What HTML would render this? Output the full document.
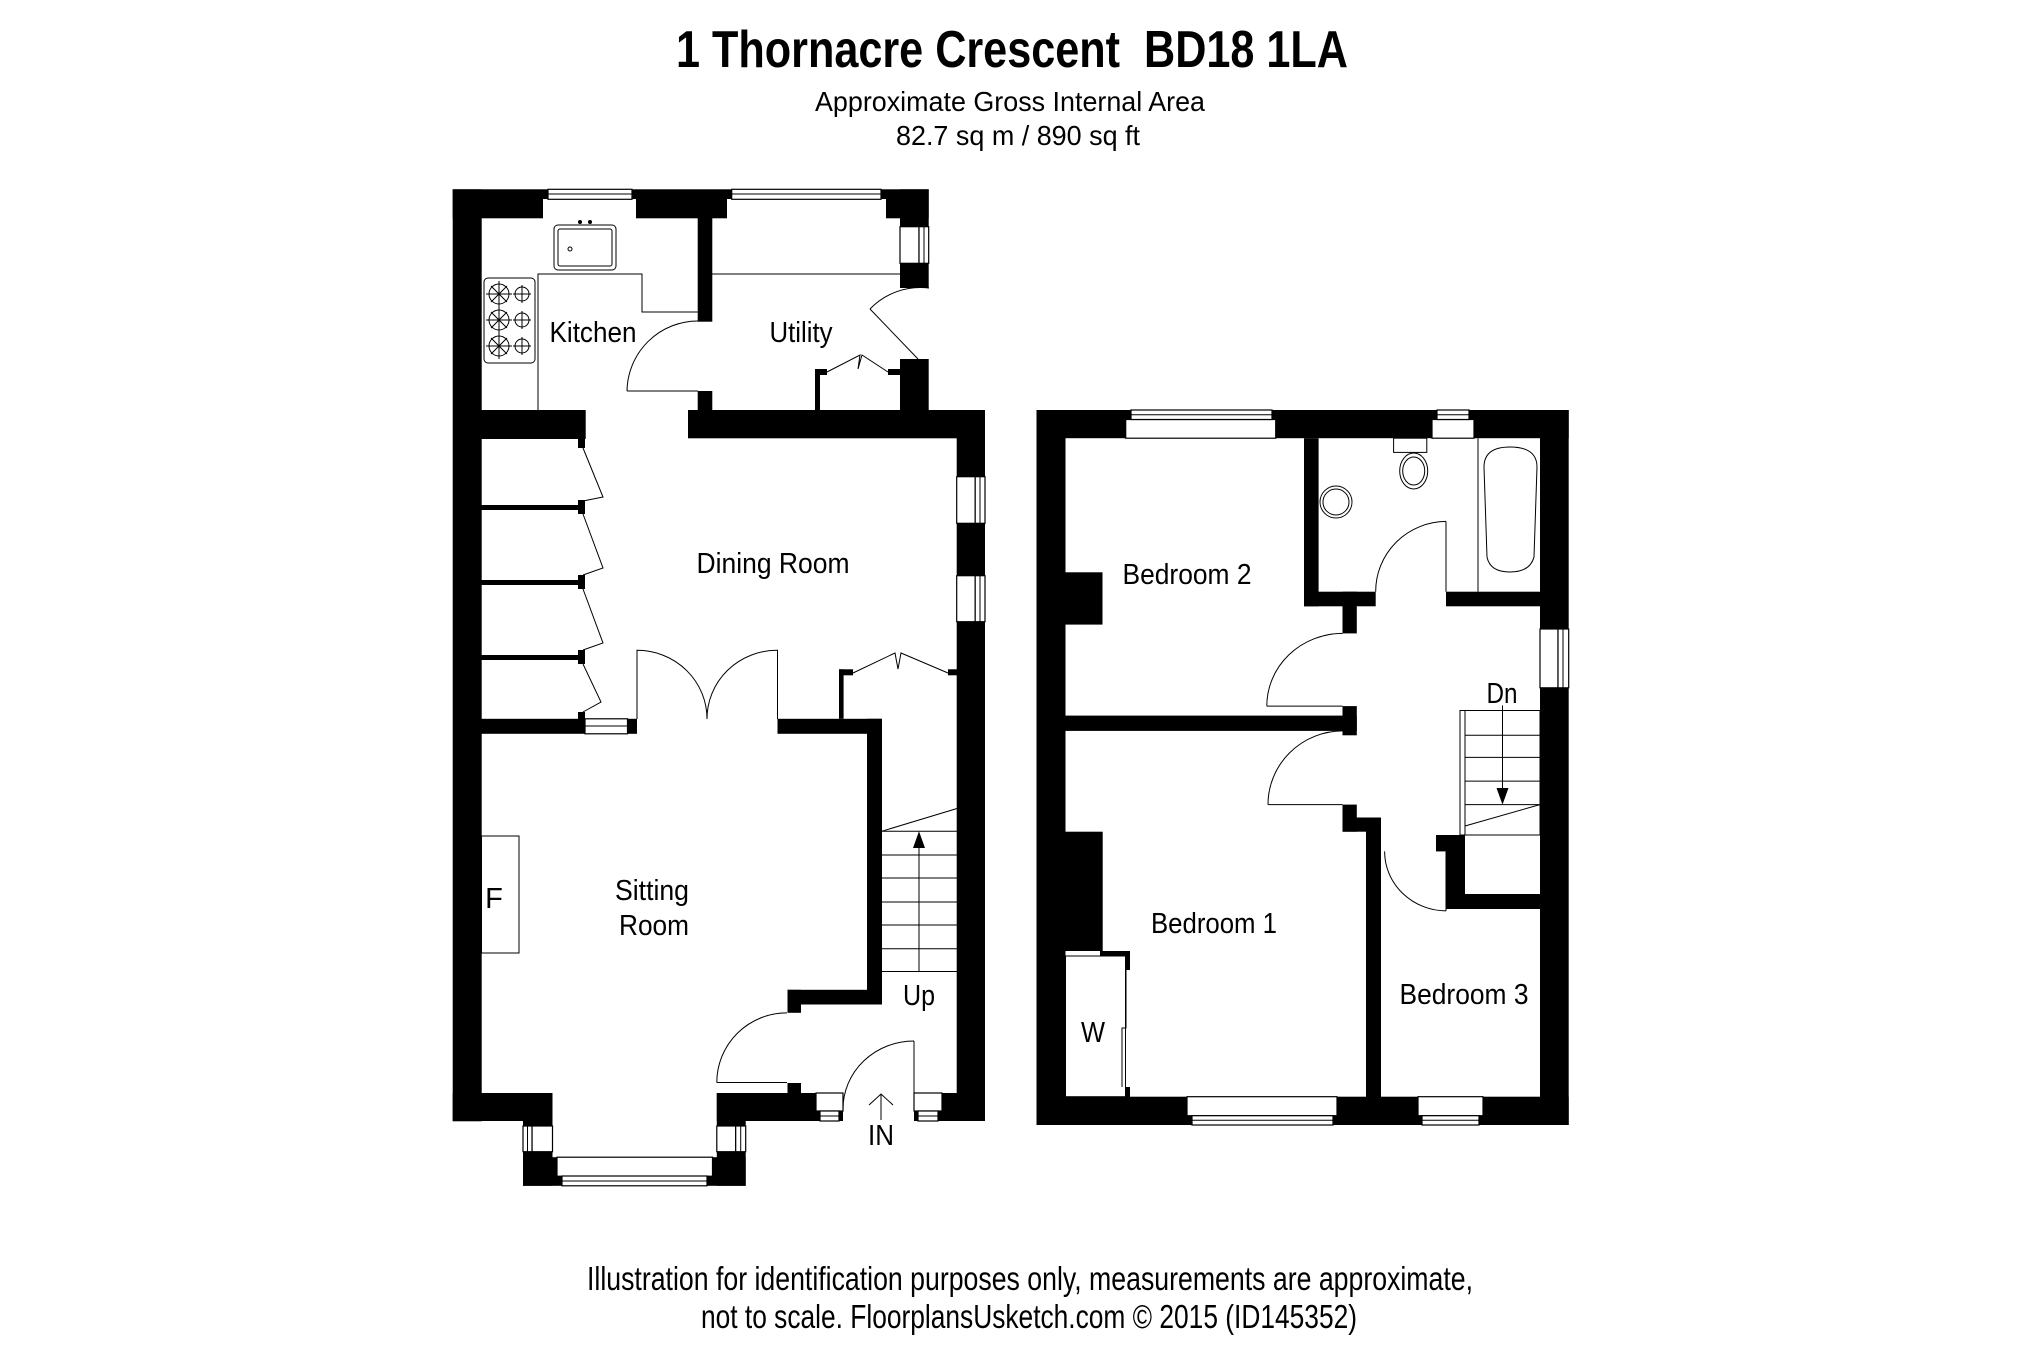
<!DOCTYPE html>
<html><head><meta charset="utf-8"><style>
html,body{margin:0;padding:0;background:#fff;}
svg{display:block}
text{font-family:"Liberation Sans Narrow","Liberation Sans",Arial,sans-serif;fill:#000}
</style></head><body>
<svg width="2025" height="1347" viewBox="0 0 2025 1347" xmlns="http://www.w3.org/2000/svg">
<rect width="2025" height="1347" fill="#fff"/>
<text x="1012" y="67" font-size="52" font-weight="bold" text-anchor="middle" textLength="672" lengthAdjust="spacingAndGlyphs">1 Thornacre Crescent&#160; BD18 1LA</text>
<text x="1010" y="111" font-size="28" text-anchor="middle" textLength="390" lengthAdjust="spacingAndGlyphs">Approximate Gross Internal Area</text>
<text x="1018" y="145" font-size="28" text-anchor="middle" textLength="244" lengthAdjust="spacingAndGlyphs">82.7 sq m / 890 sq ft</text>
<text x="1030" y="1290" font-size="33" text-anchor="middle" textLength="886" lengthAdjust="spacingAndGlyphs">Illustration for identification purposes only, measurements are approximate,</text>
<text x="1029" y="1328" font-size="33" text-anchor="middle" textLength="656" lengthAdjust="spacingAndGlyphs">not to scale. FloorplansUsketch.com © 2015 (ID145352)</text>

<g fill="#000">
<rect x="452.7" y="189.3" width="29" height="932"/>
<rect x="452.7" y="189.3" width="476" height="29"/>
<rect x="900" y="189.3" width="28.7" height="98.7"/>
<rect x="900" y="359" width="28.7" height="52"/>
<rect x="688" y="410" width="297" height="28.3"/>
<rect x="481.5" y="410" width="104.2" height="29"/>
<rect x="956.7" y="410" width="28.3" height="711"/>
<rect x="697.7" y="218" width="14.6" height="103.7"/>
<rect x="697.7" y="391" width="14.6" height="20"/>
<rect x="815" y="369" width="5" height="41"/>
<rect x="815" y="369" width="12" height="6"/>
<rect x="888" y="369" width="12" height="6"/>
<rect x="481.5" y="505" width="102" height="5"/>
<rect x="481.5" y="580" width="102" height="5"/>
<rect x="481.5" y="655" width="102" height="5"/>
<rect x="578" y="439" width="7" height="9"/>
<rect x="578" y="500" width="7" height="14"/>
<rect x="578" y="575" width="7" height="14"/>
<rect x="578" y="650" width="7" height="14"/>
<rect x="578" y="712" width="7" height="7"/>
<rect x="481.5" y="718.8" width="155.5" height="15"/>
<rect x="777.5" y="718.8" width="104.5" height="15"/>
<rect x="867" y="718.8" width="15" height="285.7"/>
<rect x="787.5" y="989.8" width="94.5" height="14.7"/>
<rect x="787.5" y="989.8" width="13.5" height="23"/>
<rect x="787.5" y="1083" width="13.5" height="10"/>
<rect x="839" y="669.3" width="4.6" height="49.5"/>
<rect x="839" y="669.3" width="14" height="6"/>
<rect x="948" y="669.3" width="9" height="6"/>
<rect x="452.7" y="1093" width="99.8" height="28"/>
<rect x="523" y="1093" width="29.5" height="92.8"/>
<rect x="523" y="1157.2" width="222.7" height="28.6"/>
<rect x="716.8" y="1093" width="28.9" height="92.8"/>
<rect x="716.8" y="1093" width="126.2" height="28"/>
<rect x="914" y="1093" width="71" height="28"/>

<rect x="1036.5" y="410" width="532.2" height="28.2"/>
<rect x="1036.5" y="410" width="29" height="715"/>
<rect x="1540" y="410" width="28.7" height="715"/>
<rect x="1036.5" y="1096.7" width="532.2" height="28.3"/>
<rect x="1304" y="438.2" width="14.6" height="168.1"/>
<rect x="1304" y="591.7" width="71.7" height="14.6"/>
<rect x="1446" y="591.7" width="94" height="14.6"/>
<rect x="1342.5" y="591.7" width="14.3" height="41.7"/>
<rect x="1065.5" y="715.6" width="291.3" height="15.3"/>
<rect x="1342.5" y="706.1" width="14.3" height="29.2"/>
<rect x="1342.5" y="804.6" width="14.3" height="27.1"/>
<rect x="1342.5" y="817.5" width="38.5" height="14.2"/>
<rect x="1366" y="817.5" width="15" height="280"/>
<rect x="1446" y="835" width="19" height="74"/>
<rect x="1436" y="835" width="29" height="16.4"/>
<rect x="1446" y="894" width="94" height="15"/>
<rect x="1065" y="572.3" width="37.5" height="52.3"/>
<rect x="1065" y="831.7" width="37.7" height="119.3"/>
<rect x="1100" y="951" width="30" height="5"/>
<rect x="1126" y="951" width="4" height="19"/>
<rect x="1126" y="1087" width="4" height="10"/>
</g>

<g fill="#fff" stroke="#000" stroke-width="1.2">
<rect x="543" y="199" width="93" height="20" stroke="none"/>
<rect x="548" y="189.3" width="84" height="10"/>
<rect x="727" y="199" width="159" height="20" stroke="none"/>
<rect x="731.7" y="189.3" width="149.3" height="10"/>
<rect x="900" y="226.7" width="19" height="36.6"/>
<rect x="919" y="226.7" width="9.7" height="36.6"/>
<rect x="956.7" y="476.7" width="18.5" height="46.6"/>
<rect x="975.2" y="476.7" width="9.8" height="46.6"/>
<rect x="956.7" y="575.7" width="18.5" height="46"/>
<rect x="975.2" y="575.7" width="9.8" height="46"/>
<rect x="585" y="718.8" width="42.5" height="15"/>
<rect x="532" y="1126" width="20.5" height="25.7"/>
<rect x="523" y="1126" width="9" height="25.7"/>
<rect x="716.8" y="1126" width="18.9" height="25.7"/>
<rect x="735.7" y="1126" width="10" height="25.7"/>
<rect x="557" y="1157.2" width="155.5" height="19"/>
<rect x="562" y="1176" width="145" height="9.8"/>
<rect x="816" y="1093" width="27" height="18"/>
<rect x="820" y="1111" width="19" height="10"/>
<rect x="914" y="1093" width="28" height="18"/>
<rect x="918" y="1111" width="20" height="10"/>
<rect x="1125.7" y="419.5" width="150" height="18.7"/>
<rect x="1131" y="410" width="141" height="9.5"/>
<rect x="1432" y="419.5" width="42" height="18.7"/>
<rect x="1437" y="410" width="32" height="9.5"/>
<rect x="1540" y="629" width="18" height="58.8"/>
<rect x="1558" y="629" width="10.7" height="58.8"/>
<rect x="1187" y="1096.7" width="150" height="19"/>
<rect x="1192" y="1115.7" width="141" height="9.3"/>
<rect x="1418" y="1096.7" width="65" height="19"/>
<rect x="1422" y="1115.7" width="57" height="9.3"/>
</g>
<g stroke="#000" stroke-width="1" fill="none">
<line x1="548" y1="194" x2="632" y2="194"/><line x1="731.7" y1="194" x2="881" y2="194"/>
<line x1="924" y1="226.7" x2="924" y2="263.3"/>
<line x1="980" y1="476.7" x2="980" y2="523.3"/><line x1="980" y1="575.7" x2="980" y2="621.7"/>
<line x1="585" y1="726" x2="627.5" y2="726"/>
<line x1="562" y1="1181" x2="707" y2="1181"/>
<line x1="527.5" y1="1126" x2="527.5" y2="1151.7"/><line x1="740.7" y1="1126" x2="740.7" y2="1151.7"/>
<line x1="820" y1="1116" x2="839" y2="1116"/><line x1="918" y1="1116" x2="938" y2="1116"/>
<line x1="1131" y1="414.7" x2="1272" y2="414.7"/><line x1="1437" y1="414.7" x2="1469" y2="414.7"/>
<line x1="1563" y1="629" x2="1563" y2="687.8"/>
<line x1="1192" y1="1120.3" x2="1333" y2="1120.3"/><line x1="1422" y1="1120.3" x2="1479" y2="1120.3"/>
</g>

<g stroke="#000" stroke-width="1" fill="none">
<rect x="554" y="225" width="62" height="45" rx="4"/>
<rect x="558" y="229" width="54" height="37" rx="2"/>
<circle cx="570" cy="249" r="2"/>
<circle cx="580" cy="222" r="1.5" fill="#000"/><circle cx="590" cy="222" r="1.5" fill="#000"/>
<rect x="484" y="278" width="51" height="85" rx="4"/>
<polyline points="538,410 538,274 642,274 642,312 698,312"/>
<circle cx="499" cy="294" r="10"/><circle cx="522" cy="294" r="7"/>
<circle cx="499" cy="320" r="10"/><circle cx="522" cy="320" r="7"/>
<circle cx="499" cy="346" r="10"/><circle cx="522" cy="346" r="7"/>
<path d="M486 294h26M499 281v26M512 320h-26M499 307v26M486 346h26M499 333v26M513 294h18M522 285v18M513 320h18M522 311v18M513 346h18M522 337v18M491 286l16 16M507 286l-16 16M491 312l16 16M507 312l-16 16M491 338l16 16M507 338l-16 16"/>
<path d="M627 391 H698"/>
<path d="M627 391 A71 71 0 0 1 698 321"/>
<line x1="712" y1="274" x2="900" y2="274"/>
<path d="M870 309 L918 359"/>
<path d="M870 309 A 70 70 0 0 1 929 288"/>
<path d="M827 372 L860 355 L858 369 L862 355 L888 372"/>
<polyline points="583,448 603,497 583,501"/>
<polyline points="583,514 603,568 583,575"/>
<polyline points="583,589 603,643 583,650"/>
<polyline points="583,664 601,702 583,712"/>
<path d="M637 719 V650.3 A70 68.5 0 0 1 707 719"/>
<path d="M777.5 719 V650.3 A70 68.5 0 0 0 707 719"/>
<path d="M853 673 L895 653 L898 669 L901 653 L948 673"/>
<line x1="882" y1="831.2" x2="957" y2="808.5"/>
<line x1="882" y1="831.2" x2="957" y2="831.2"/><line x1="882" y1="855" x2="957" y2="855"/><line x1="882" y1="878" x2="957" y2="878"/><line x1="882" y1="902" x2="957" y2="902"/><line x1="882" y1="925" x2="957" y2="925"/><line x1="882" y1="948.8" x2="957" y2="948.8"/><line x1="882" y1="971.5" x2="957" y2="971.5"/>
<line x1="919" y1="971.5" x2="919" y2="845"/>
<rect x="481.5" y="836" width="37.5" height="117"/>
<path d="M716.8 1082.5 H787"/>
<path d="M716.8 1082.5 A70 69.6 0 0 1 787 1012.9"/>
<path d="M914 1041 V1093"/>
<path d="M914 1041 A71 68 0 0 0 843 1109"/>
<path d="M881 1120 V1094 M869 1105 L881 1094 L893 1105"/>
<rect x="1393.6" y="438.2" width="33.2" height="14.2"/>
<ellipse cx="1413.7" cy="471" rx="14" ry="18"/>
<ellipse cx="1413.7" cy="471" rx="11" ry="14"/>
<circle cx="1336" cy="502" r="16"/>
<circle cx="1336" cy="502" r="13"/>
<line x1="1478" y1="438.2" x2="1478" y2="591.7"/>
<path d="M1484 467 Q1484 447 1510 447 Q1537 447 1537 467 L1534 557 Q1530 572 1510 572 Q1490 572 1487 557 Z"/>
<path d="M1446 521.4 V591.7"/><path d="M1446 521.4 A71 70 0 0 0 1375.7 591.7"/>
<path d="M1266.8 706.1 H1342.5"/><path d="M1266.8 706.1 A76 72.7 0 0 1 1342.5 633.4"/>
<path d="M1268 804.6 H1342.5"/><path d="M1268 804.6 A75 73.7 0 0 1 1342.5 730.9"/>
<path d="M1446 851.4 V910.9"/><path d="M1384.6 851.4 A62 59.5 0 0 0 1446 910.9"/>
<rect x="1460" y="710.5" width="80" height="124.5"/>
<line x1="1465" y1="710.5" x2="1465" y2="835"/>
<line x1="1465" y1="735.3" x2="1540" y2="735.3"/><line x1="1465" y1="757.4" x2="1540" y2="757.4"/><line x1="1465" y1="781.1" x2="1540" y2="781.1"/><line x1="1465" y1="804.6" x2="1540" y2="804.6"/>
<line x1="1465" y1="826" x2="1540" y2="804.6"/>
<line x1="1502.5" y1="705.4" x2="1502.5" y2="790"/>
<rect x="1065.5" y="956" width="60" height="140.7"/>
<path d="M1126 970 V1028 H1122 V1087"/>
</g>
<g fill="#000">
<polygon points="913,848 925,848 919,831.2"/>
<polygon points="1496.5,788 1508.5,788 1502.5,804.6"/>
</g>

<g font-size="29" text-anchor="middle">
<text x="593" y="342" textLength="87" lengthAdjust="spacingAndGlyphs">Kitchen</text>
<text x="801" y="342" textLength="63" lengthAdjust="spacingAndGlyphs">Utility</text>
<text x="773" y="573" textLength="153" lengthAdjust="spacingAndGlyphs">Dining Room</text>
<text x="652" y="900" textLength="74" lengthAdjust="spacingAndGlyphs">Sitting</text>
<text x="654" y="935" textLength="70" lengthAdjust="spacingAndGlyphs">Room</text>
<text x="494" y="908">F</text>
<text x="919" y="1005" textLength="32" lengthAdjust="spacingAndGlyphs">Up</text>
<text x="881" y="1145" textLength="26" lengthAdjust="spacingAndGlyphs">IN</text>
<text x="1187" y="584" textLength="129" lengthAdjust="spacingAndGlyphs">Bedroom 2</text>
<text x="1214" y="933" textLength="126" lengthAdjust="spacingAndGlyphs">Bedroom 1</text>
<text x="1464" y="1004" textLength="129" lengthAdjust="spacingAndGlyphs">Bedroom 3</text>
<text x="1502" y="703" textLength="31" lengthAdjust="spacingAndGlyphs">Dn</text>
<text x="1093" y="1042" textLength="24" lengthAdjust="spacingAndGlyphs">W</text>
</g>
</svg>
</body></html>
